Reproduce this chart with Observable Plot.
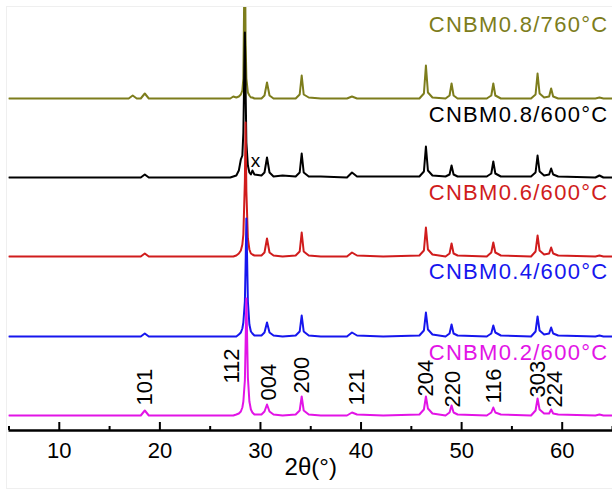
<!DOCTYPE html>
<html>
<head>
<meta charset="utf-8">
<script src="https://cdn.jsdelivr.net/npm/d3@7"></script>
<script src="https://cdn.jsdelivr.net/npm/@observablehq/plot@0.6"></script>
<style>
  html, body { margin: 0; padding: 0; background: #fff; }
  #wrap { position: relative; width: 612px; height: 490px; }
  #edge { position: absolute; left: 6px; top: 6px; width: 610px; height: 481px; border: 1px solid #efefef; pointer-events: none; }
  svg { display: block; }
  .series-label text { letter-spacing: 1.3px; }
</style>
</head>
<body>
<div id="wrap"><div id="edge"></div></div>
<script>
// 2θ sample positions (degrees)
const twoTheta = [5, 16.9, 17.3, 17.7, 18.1, 18.5, 18.9, 27.0, 27.3, 27.6, 27.85, 28.05, 28.2, 28.3, 28.45, 28.52, 28.6, 28.75, 28.9, 29.05, 29.2, 29.4, 30.1, 30.4, 30.65, 30.9, 31.3, 32.2, 33.5, 33.9, 34.1, 34.3, 34.8, 36.0, 38.6, 39.1, 39.6, 42.2, 45.8, 46.25, 46.45, 46.65, 47.1, 48.4, 48.8, 49.0, 49.2, 49.6, 52.5, 52.95, 53.15, 53.35, 53.9, 56.9, 57.35, 57.55, 57.75, 58.2, 58.7, 58.9, 59.1, 59.6, 63.3, 63.7, 64.1, 65];

// intensities (a.u., above each pattern's own baseline)
const i760_08 = [0,0,3,0,0,5,0,0,2,1,2,4,8,20,170,60,20,6,3,1,1,0,0,3,16,3,0,0,0,4,23,4,1,0,0,2,0,0,0,5,33,6,1,0,3,15,3,0,0,3,15,3,0,0,4,25,5,1,2,10,2,0,0,1,0,0];
const i600_08 = [0,0,0,0,0,3,0,0,1,2,7,18,22,45,145,90,35,12,5,3,7,3,2,5,20,5,1,2,1,5,24,5,1,1,0,5,1,1,1,6,31,7,2,1,3,12,3,1,1,4,16,4,1,1,5,22,6,2,3,9,3,1,0,2,0,0];
const i600_06 = [0,0,0,0,0,3,0,0,0,1,3,6,12,22,75,134,65,18,7,3,2,1,1,4,18,4,1,0,1,5,24,5,1,0,0,4,1,0,1,6,29,7,2,0,3,13,3,1,0,4,14,4,1,0,5,21,6,2,3,9,3,1,0,1,0,0];
const i600_04 = [0,0,0,0,0,3,0,0,0,0,2,4,8,14,35,70,118,35,12,5,3,1,1,4,14,4,1,0,1,5,21,5,1,0,0,4,1,0,1,6,24,7,2,0,3,12,3,1,0,3,11,4,1,0,5,20,6,2,3,9,3,1,0,1,0,0];
const i600_02 = [0,0,0,0,0,5,0,0,0,1,2,4,8,14,35,70,117,38,14,6,3,1,1,4,11,4,1,0,1,5,19,5,1,0,0,3,1,0,1,6,19,7,2,0,3,10,3,1,0,3,8,3,1,0,5,17,6,2,2,6,2,1,0,1,0,0];

// series (drawn top pattern first, bottom pattern last)
const seriesNames = ["CNBM0.8/760°C", "CNBM0.8/600°C", "CNBM0.6/600°C", "CNBM0.4/600°C", "CNBM0.2/600°C"];
const seriesValues = [i760_08, i600_08, i600_06, i600_04, i600_02];
const seriesOffsets = [332, 253, 174, 94, 15];      // vertical stacking offset (a.u.)
const seriesColors = ["#7d7d1c", "#000000", "#d01c1c", "#1616ee", "#e214e6"];
const labelLevels = [73.5, 63, 63.5, 65, 63];        // label height above baseline (a.u.)

// reflection indices on the bottom pattern
const hklText = ["101", "112", "004", "200", "121", "204", "220", "116", "303", "224"];
const hklPos = [18.55, 27.2, 30.8, 34.1, 39.6, 46.45, 49.1, 53.2, 57.6, 59.3];
const hklLevel = [25, 47, 30, 37, 25, 34, 23, 27, 33, 23];

// impurity marker
const impurityText = ["x"];
const impurityPos = [29.5];
const impurityLevel = [270];

const majorTicks = [10, 20, 30, 40, 50, 60];
const minorTicks = [5, 15, 25, 35, 45, 55, 65];
const xLabel = "2θ(°)";

const font = "'Liberation Sans', Arial, Helvetica, sans-serif";

const lines = seriesNames.map((name, s) =>
  Plot.line(twoTheta.map((t, k) => ({t, y: seriesOffsets[s] + seriesValues[s][k]})), {
    x: "t", y: "y", stroke: seriesColors[s], strokeWidth: 2, strokeLinejoin: "round", clip: true
  })
);

const labels = seriesNames.map((name, s) => ({name, y: seriesOffsets[s] + labelLevels[s], color: seriesColors[s]}));

const chart = Plot.plot({
  width: 612,
  height: 490,
  marginLeft: 8.5,
  marginRight: 0,
  marginTop: 6,
  marginBottom: 60,
  style: {fontFamily: font, fontSize: "22px", background: "white", overflow: "visible"},
  x: {domain: [5, 65]},
  y: {domain: [0, 424], axis: null},
  marks: [
    ...lines,
    Plot.text(labels, {y: "y", text: "name", fill: "color", frameAnchor: "right", textAnchor: "end", dx: -4, fontSize: 22, className: "series-label"}),
    Plot.text(hklText, {x: (d, i) => hklPos[i], y: (d, i) => hklLevel[i], text: d => d, rotate: -90, textAnchor: "start", fill: "black", fontSize: 22}),
    Plot.text(impurityText, {x: (d, i) => impurityPos[i], y: (d, i) => impurityLevel[i], text: d => d, fill: "black", fontSize: 19}),
    Plot.ruleY([0], {stroke: "black", strokeWidth: 2.5}),
    Plot.tickX(majorTicks, {x: d => d, insetTop: 416, stroke: "black", strokeWidth: 2}),
    Plot.tickX(minorTicks, {x: d => d, insetTop: 420, stroke: "black", strokeWidth: 2}),
    Plot.axisX({ticks: majorTicks, tickSize: 0, tickPadding: 12, fontSize: 22, label: null, tickFormat: d => String(d)}),
    Plot.text([xLabel], {frameAnchor: "bottom", text: d => d, dy: 44, fontSize: 24, fill: "black"})
  ]
});

document.getElementById("wrap").prepend(chart);
</script>
</body>
</html>
